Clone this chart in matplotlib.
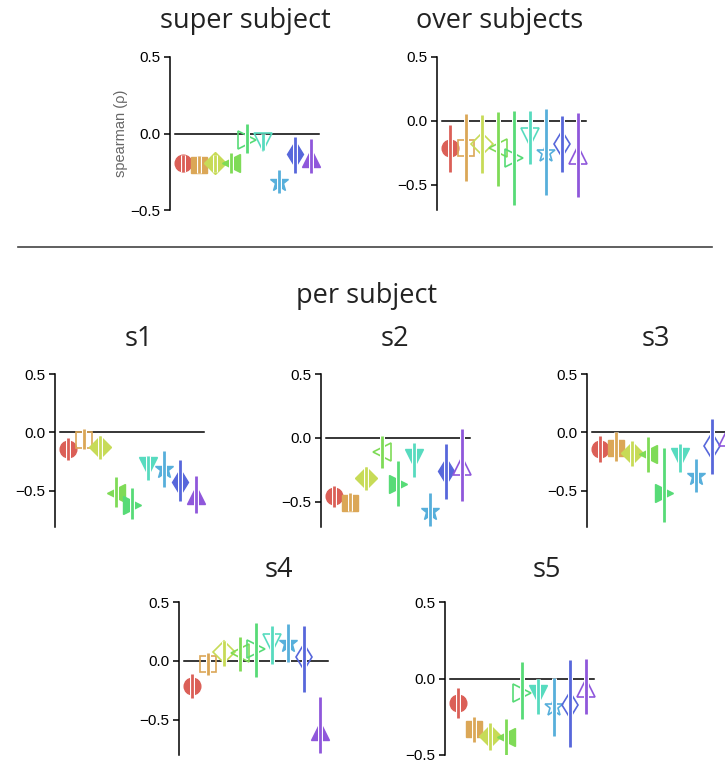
import matplotlib
matplotlib.use("Agg")
import seaborn as sns
import matplotlib.patheffects as pe
from matplotlib import pyplot as plt
from matplotlib.lines import Line2D


# marker per model, same order in every panel
MARKERS = ['o', 's', 'D', '<', '>', 'v', '*', 'd', '^']
COLORS = sns.color_palette("hls", 11)[:9]

# spearman rho, lower / upper error bar, filled (1) or open (0) marker
super_mean = [-0.196, -0.207, -0.19, -0.196, -0.04, -0.056, -0.315, -0.137, -0.163]
super_lo = [-0.25, -0.26, -0.25, -0.257, -0.126, -0.11, -0.39, -0.257, -0.257]
super_hi = [-0.14, -0.15, -0.14, -0.13, 0.06, 0.0, -0.24, -0.026, -0.033]
super_filled = [1, 1, 1, 1, 0, 0, 1, 1, 1]

over_mean = [-0.216, -0.21, -0.18, -0.21, -0.29, -0.128, -0.255, -0.18, -0.27]
over_lo = [-0.40, -0.47, -0.41, -0.51, -0.66, -0.34, -0.586, -0.40, -0.60]
over_hi = [-0.034, 0.05, 0.045, 0.065, 0.075, 0.075, 0.09, 0.036, 0.06]
over_filled = [1, 0, 0, 0, 0, 0, 0, 0, 0]

s1_mean = [-0.139, -0.066, -0.124, -0.52, -0.62, -0.29, -0.31, -0.425, -0.54]
s1_lo = [-0.24, -0.145, -0.23, -0.64, -0.74, -0.405, -0.47, -0.59, -0.69]
s1_hi = [-0.05, 0.03, -0.03, -0.38, -0.48, -0.2, -0.155, -0.24, -0.375]
s1_filled = [1, 0, 1, 1, 1, 1, 1, 1, 1]

s2_mean = [-0.46, -0.51, -0.316, -0.113, -0.363, -0.16, -0.574, -0.263, -0.224]
s2_lo = [-0.54, -0.574, -0.41, -0.237, -0.534, -0.31, -0.69, -0.48, -0.495]
s2_hi = [-0.377, -0.437, -0.226, 0.01, -0.18, -0.042, -0.437, -0.047, 0.07]
s2_filled = [1, 1, 1, 0, 1, 1, 1, 1, 0]

s3_mean = [-0.139, -0.136, -0.176, -0.188, -0.52, -0.21, -0.376, -0.12, -0.04]
s3_lo = [-0.25, -0.246, -0.29, -0.338, -0.77, -0.338, -0.51, -0.36, -0.2]
s3_hi = [-0.03, 0.0, -0.072, -0.043, -0.13, -0.1, -0.23, 0.115, 0.12]
s3_filled = [1, 1, 1, 1, 1, 1, 1, 0, 0]

s4_mean = [-0.214, -0.03, 0.071, 0.07, 0.097, 0.154, 0.154, 0.034, -0.594]
s4_lo = [-0.314, -0.123, -0.046, -0.089, -0.137, -0.023, -0.009, -0.266, -0.78]
s4_hi = [-0.11, 0.063, 0.17, 0.206, 0.32, 0.297, 0.31, 0.30, -0.31]
s4_filled = [1, 0, 0, 0, 0, 0, 1, 0, 1]

s5_mean = [-0.159, -0.333, -0.374, -0.38, -0.098, -0.1, -0.185, -0.17, -0.063]
s5_lo = [-0.26, -0.413, -0.467, -0.5, -0.267, -0.235, -0.376, -0.45, -0.235]
s5_hi = [-0.06, -0.25, -0.29, -0.267, 0.109, 0.0, 0.004, 0.12, 0.126]
s5_filled = [1, 1, 1, 1, 0, 1, 0, 0, 0]

W, H = 725, 763
TITLE_FONT = 'Open Sans'
# triangles look small next to circles at the same size
MARKER_SIZE = {'o': 12, 's': 12, 'D': 11, '<': 13.5, '>': 13.5, 'v': 13.5, '*': 14, 'd': 13, '^': 13.5}


def px_axes(fig, left, top, width=151, height=153):
    return fig.add_axes([left / W, 1 - (top + height) / H, width / W, height / H])


def draw_panel(ax, mean, lo, hi, filled, ybottom):
    ax.plot([-0.5, 8.5], [0, 0], color='black', lw=1.1, zorder=1)
    for i in range(len(mean)):
        face = COLORS[i] if filled[i] else 'none'
        ax.plot(i, mean[i], marker=MARKERS[i], markersize=MARKER_SIZE[MARKERS[i]],
                markerfacecolor=face, markeredgecolor=COLORS[i],
                markeredgewidth=1.0 if filled[i] else 1.2, linestyle='none', zorder=2)
        ax.plot([i, i], [lo[i], hi[i]], color=COLORS[i], lw=2.0, solid_capstyle='butt', zorder=3,
                path_effects=[pe.Stroke(linewidth=3.6, foreground='white'), pe.Normal()])
    ax.set_xlim(-0.8, 8.6)
    ax.set_ylim(ybottom, 0.5)
    ax.set_yticks([-0.5, 0.0, 0.5])
    ax.set_yticklabels(['\u22120.5', '0.0', '0.5'])
    ax.set_xticks([])
    for side in ['top', 'right', 'bottom']:
        ax.spines[side].set_visible(False)
    ax.spines['left'].set_linewidth(1.1)
    ax.tick_params(axis='y', direction='out', length=4, width=1.1, labelsize=11, pad=3)
    for lab in ax.get_yticklabels():
        lab.set_family('Liberation Sans')
    ax.patch.set_alpha(0)


def main():
    fig = plt.figure(figsize=(W / 100, H / 100), dpi=100)

    ax = px_axes(fig, 170, 57)
    draw_panel(ax, super_mean, super_lo, super_hi, super_filled, -0.5)
    ax.set_ylabel('spearman (\u03c1)', family='Liberation Sans', fontsize=10.5, color='#666666', labelpad=2)

    ax = px_axes(fig, 437, 57)
    draw_panel(ax, over_mean, over_lo, over_hi, over_filled, -0.70)

    ax = px_axes(fig, 55, 374)
    draw_panel(ax, s1_mean, s1_lo, s1_hi, s1_filled, -0.81)
    ax = px_axes(fig, 321, 374)
    draw_panel(ax, s2_mean, s2_lo, s2_hi, s2_filled, -0.70)
    ax = px_axes(fig, 587, 374)
    draw_panel(ax, s3_mean, s3_lo, s3_hi, s3_filled, -0.81)
    ax = px_axes(fig, 179, 602)
    draw_panel(ax, s4_mean, s4_lo, s4_hi, s4_filled, -0.80)
    ax = px_axes(fig, 445, 602)
    draw_panel(ax, s5_mean, s5_lo, s5_hi, s5_filled, -0.5)

    # titles and separator, placed in figure pixels
    titles = [('super subject', 245, 21), ('over subjects', 500, 21), ('per subject', 367, 296),
              ('s1', 139, 339), ('s2', 395, 339), ('s3', 656, 339), ('s4', 279, 570), ('s5', 547, 570)]
    for text, x, y in titles:
        fig.text(x / W, 1 - y / H, text, ha='center', va='center', fontsize=19.5,
                 family=TITLE_FONT, color='#222222')
    fig.add_artist(Line2D([18 / W, 712 / W], [1 - 247 / H, 1 - 247 / H], color='#444444', lw=1.2))

    fig.savefig('out.png', dpi=100)


if __name__ == '__main__':
    main()
